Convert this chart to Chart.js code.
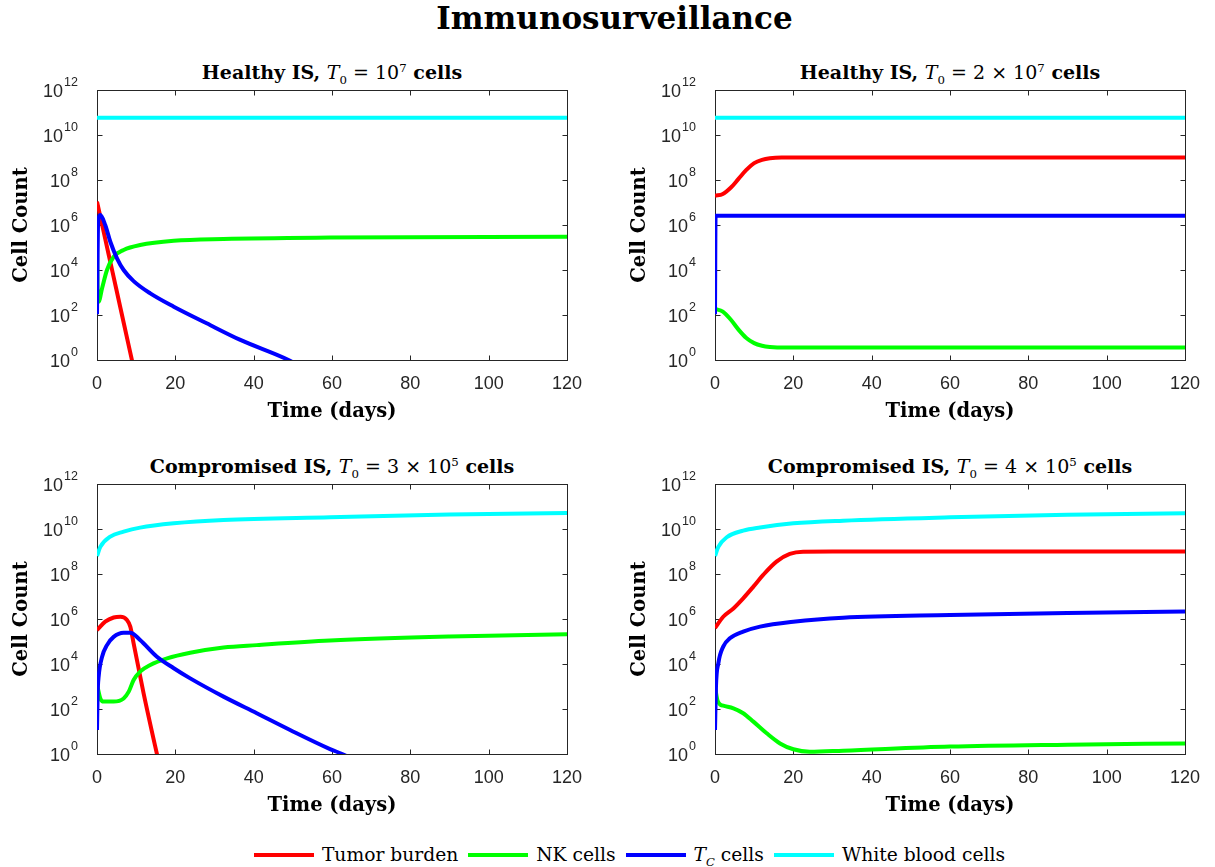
<!DOCTYPE html>
<html>
<head>
<meta charset="utf-8">
<title>Immunosurveillance</title>
<script src="https://cdn.jsdelivr.net/npm/chart.js@4.4.1/dist/chart.umd.min.js"></script>
<style>
  body { margin: 0; width: 1215px; height: 867px; background: #fff; position: relative; overflow: hidden; font-family: "DejaVu Serif", serif; color: #000; }
  canvas { position: absolute; }
  .main-title { position: absolute; left: 7px; width: 1215px; top: 1px; text-align: center; font-weight: bold; font-size: 31px; line-height: 34px; }
  .ptitle { position: absolute; width: 470px; text-align: center; font-size: 19px; line-height: 22px; white-space: nowrap; font-weight: bold; }
  .math { font-weight: normal; }
  .math i { font-style: italic; }
  sub, sup { font-size: 62%; line-height: 0; }
  .legend { position: absolute; left: 22px; width: 1215px; top: 843px; display: flex; justify-content: center; align-items: center; font-size: 18.7px; line-height: 24px; white-space: nowrap; }
  .legend .item { display: flex; align-items: center; margin: 0 5px; }
  .legend .sw { display: inline-block; width: 60px; height: 4px; margin-right: 8px; }
</style>
</head>
<body>

<div class="main-title">Immunosurveillance</div>

<div class="ptitle" style="left:97px; top:61px;">Healthy IS, <span class="math"><i>T</i><sub>0</sub> = 10<sup>7</sup></span> cells</div>
<div class="ptitle" style="left:715px; top:61px;">Healthy IS, <span class="math"><i>T</i><sub>0</sub> = 2 &times; 10<sup>7</sup></span> cells</div>
<div class="ptitle" style="left:97px; top:455px;">Compromised IS, <span class="math"><i>T</i><sub>0</sub> = 3 &times; 10<sup>5</sup></span> cells</div>
<div class="ptitle" style="left:715px; top:455px;">Compromised IS, <span class="math"><i>T</i><sub>0</sub> = 4 &times; 10<sup>5</sup></span> cells</div>

<canvas id="p1" width="597" height="365" style="left:0px; top:60px;"></canvas>
<canvas id="p2" width="597" height="365" style="left:618px; top:60px;"></canvas>
<canvas id="p3" width="597" height="365" style="left:0px; top:454px;"></canvas>
<canvas id="p4" width="597" height="365" style="left:618px; top:454px;"></canvas>

<div class="legend">
  <span class="item"><span class="sw" style="background:#ff0000"></span>Tumor burden</span>
  <span class="item"><span class="sw" style="background:#00ff00"></span>NK cells</span>
  <span class="item"><span class="sw" style="background:#0000ff"></span><span><i>T</i><sub><i>C</i></sub> cells</span></span>
  <span class="item"><span class="sw" style="background:#00ffff"></span>White blood cells</span>
</div>

<script>
// --- AXES ---
const xTickValues = [0, 20, 40, 60, 80, 100, 120];
const yTickValues = [1, 1e2, 1e4, 1e6, 1e8, 1e10, 1e12];
const yTickExponents = ['0', '2', '4', '6', '8', '10', '12'];

// --- PANEL 1: Healthy IS, T0 = 1e7 ---
const p1TumorT = [0, 2, 4, 6, 8, 9, 10];
const p1Tumor  = [1.1e7, 2.9e5, 7.6e3, 200, 5.2, 0.85, 0.14];
const p1NKT    = [0, 0.2, 0.4, 1.3, 2.55, 4.25, 6.8, 11, 19.6, 32.3, 59.5, 120];
const p1NK     = [1e5, 631, 389, 1550, 1e4, 3.9e4, 7.8e4, 1.29e5, 2e5, 2.4e5, 2.75e5, 3e5];
const p1TcT    = [0, 0.3, 0.85, 2.1, 3.4, 5.1, 6.8, 9.35, 13.6, 19.6, 28, 36.6, 48.9, 52];
const p1Tc     = [107, 1.58e6, 2.75e6, 1e6, 1.8e5, 3.3e4, 1e4, 3.2e3, 912, 234, 42.7, 7.8, 1, 0.5];
const p1WbcT   = [0, 120];
const p1Wbc    = [5.9e10, 5.9e10];

// --- PANEL 2: Healthy IS, T0 = 2e7 ---
const p2TumorT = [0, 2, 4, 6, 8, 10, 12, 14, 17, 120];
const p2Tumor  = [2e7, 2.4e7, 4.5e7, 1.12e8, 2.8e8, 5.6e8, 7.9e8, 9.3e8, 1e9, 1e9];
const p2NKT    = [0, 2, 4, 6, 8, 10, 12, 14, 18, 120];
const p2NK     = [186, 141, 63, 22.4, 9.5, 5.6, 4.3, 3.8, 3.55, 3.6];
const p2TcT    = [0, 0.15, 120];
const p2Tc     = [107, 2.6e6, 2.6e6];
const p2WbcT   = [0, 120];
const p2Wbc    = [5.9e10, 5.9e10];

// --- PANEL 3: Compromised IS, T0 = 3e5 ---
const p3TumorT = [0, 2.1, 4.25, 6.0, 7.65, 8.5, 9.35, 11.9, 15.3, 17];
const p3Tumor  = [3.2e5, 7.6e5, 1.17e6, 1.26e6, 9.1e5, 4.6e5, 8.3e4, 500, 1, 0.05];
const p3NKT    = [0, 0.85, 1.7, 4.25, 6.8, 8.1, 9.35, 11, 13.6, 17.9, 23.8, 32.3, 40.8, 59.5, 90, 120];
const p3NK     = [1260, 295, 214, 214, 295, 590, 1950, 4600, 9100, 1.78e4, 3.16e4, 5.4e4, 6.9e4, 1.1e5, 1.66e5, 2.1e5];
const p3TcT    = [0, 0.17, 0.42, 1.3, 2.55, 4.25, 6.8, 8.5, 11, 15.3, 19.6, 23.8, 32.3, 40.8, 49.3, 59.5, 62.6, 65];
const p3Tc     = [11.7, 500, 2750, 2.1e4, 6.9e4, 1.6e5, 2.45e5, 2.45e5, 1.17e5, 2.1e4, 6.5e3, 2.3e3, 355, 65, 11.7, 1.66, 1, 0.63];
const p3WbcT   = [0, 0.85, 3.4, 6.8, 11, 19.6, 32.3, 59.5, 90, 120];
const p3Wbc    = [6.3e8, 1.6e9, 4.6e9, 7.6e9, 1.15e10, 1.78e10, 2.5e10, 3.3e10, 4.4e10, 5.1e10];

// --- PANEL 4: Compromised IS, T0 = 4e5 ---
const p4TumorT = [0, 2.1, 4.7, 7.2, 9.8, 12.3, 15.7, 19.1, 22.5, 30, 120];
const p4Tumor  = [4e5, 1.26e6, 2.95e6, 8.3e6, 2.75e7, 9.1e7, 3.55e8, 7.8e8, 9.8e8, 1e9, 1e9];
const p4NKT    = [0, 0.6, 1.3, 2.1, 4.7, 7.2, 9.8, 13.2, 16.6, 20, 24.2, 32.7, 60, 90, 120];
const p4NK     = [1000, 250, 158, 141, 107, 65, 27.5, 8.3, 2.95, 1.62, 1.26, 1.41, 2.14, 2.6, 2.95];
const p4TcT    = [0, 0.25, 0.85, 2.1, 3.8, 7.2, 11.5, 20, 32.7, 60, 90, 120];
const p4Tc     = [11.7, 1000, 1.07e4, 5.9e4, 1.38e5, 2.75e5, 4.6e5, 7.6e5, 1.15e6, 1.51e6, 1.86e6, 2.14e6];
const p4WbcT   = [0, 0.85, 3, 7.2, 11.5, 20, 32.7, 60, 90, 120];
const p4Wbc    = [6.3e8, 1.6e9, 4.3e9, 8.5e9, 1.17e10, 1.78e10, 2.35e10, 3.3e10, 4.3e10, 5e10];

const AXIS_COLOR = '#262626';
const SERIF = 'DejaVu Serif';
const SANS = 'Liberation Sans';

// --- MATLAB-STYLE BOX, INWARD TICKS, 10^n LABELS ---
const matlabAxes = {
    id: 'matlabAxes',
    beforeDatasetsDraw(chart) {
        const { ctx, chartArea: a, scales: { x, y } } = chart;
        const L = Math.round(a.left) + 0.5, R = Math.round(a.right) + 0.5;
        const T = Math.round(a.top) + 0.5, B = Math.round(a.bottom) + 0.5;
        ctx.save();
        ctx.strokeStyle = AXIS_COLOR;
        ctx.lineWidth = 1;
        ctx.strokeRect(L, T, R - L, B - T);
        ctx.beginPath();
        x.ticks.forEach(t => {
            const px = Math.round(x.getPixelForValue(t.value)) + 0.5;
            ctx.moveTo(px, B); ctx.lineTo(px, B - 5);
            ctx.moveTo(px, T); ctx.lineTo(px, T + 5);
        });
        y.ticks.forEach(t => {
            const py = Math.round(y.getPixelForValue(t.value)) + 0.5;
            ctx.moveTo(L, py); ctx.lineTo(L + 5, py);
            ctx.moveTo(R, py); ctx.lineTo(R - 5, py);
        });
        ctx.stroke();
        ctx.restore();
    },
    afterDraw(chart) {
        const { ctx, chartArea: a, scales: { y } } = chart;
        ctx.save();
        ctx.fillStyle = AXIS_COLOR;
        ctx.textAlign = 'right';
        ctx.textBaseline = 'middle';
        yTickValues.forEach((v, i) => {
            const py = y.getPixelForValue(v);
            const exp = yTickExponents[i];
            const right = a.left - 19;
            ctx.font = `12.5px "${SANS}"`;
            const ew = ctx.measureText(exp).width;
            ctx.fillText(exp, right, py - 7);
            ctx.font = `18px "${SANS}"`;
            ctx.fillText('10', right - ew - 1, py + 2);
        });
        ctx.restore();
    }
};

function series(label, t, vals, color, order) {
    return {
        label,
        data: t.map((tt, i) => ({ x: tt, y: vals[i] })),
        borderColor: color,
        backgroundColor: color,
        borderWidth: 4,
        pointRadius: 0,
        cubicInterpolationMode: 'monotone',
        order
    };
}

function makePanel(id, datasets) {
    return new Chart(document.getElementById(id), {
        type: 'line',
        data: { datasets },
        options: {
            responsive: false,
            animation: false,
            devicePixelRatio: 1,
            layout: { padding: { top: 30, right: 30, left: 0, bottom: 0 } },
            plugins: { legend: { display: false }, tooltip: { enabled: false } },
            scales: {
                x: {
                    type: 'linear', min: 0, max: 120,
                    afterBuildTicks: s => { s.ticks = xTickValues.map(v => ({ value: v })); },
                    afterFit: s => { s.height = 65; },
                    grid: { display: false, drawTicks: false },
                    border: { display: false },
                    ticks: { font: { family: SANS, size: 18 }, color: AXIS_COLOR, padding: 13, maxRotation: 0 },
                    title: { display: true, text: 'Time (days)', color: '#000',
                             font: { family: SERIF, size: 19.5, weight: 'bold', lineHeight: 1.0 }, padding: { top: 0, bottom: 3 } }
                },
                y: {
                    type: 'logarithmic', min: 1, max: 1e12,
                    afterBuildTicks: s => { s.ticks = yTickValues.map(v => ({ value: v })); },
                    afterFit: s => { s.width = 97; },
                    grid: { display: false, drawTicks: false },
                    border: { display: false },
                    ticks: { display: false },
                    title: { display: true, text: 'Cell Count', color: '#000',
                             font: { family: SERIF, size: 19.5, weight: 'bold' }, padding: { top: 10, bottom: 0 } }
                }
            }
        },
        plugins: [matlabAxes]
    });
}

// --- INITIALIZE ---
makePanel('p1', [
    series('Tumor burden', p1TumorT, p1Tumor, '#ff0000', 4),
    series('NK cells', p1NKT, p1NK, '#00ff00', 3),
    series('TC cells', p1TcT, p1Tc, '#0000ff', 2),
    series('White blood cells', p1WbcT, p1Wbc, '#00ffff', 1)
]);
makePanel('p2', [
    series('Tumor burden', p2TumorT, p2Tumor, '#ff0000', 4),
    series('NK cells', p2NKT, p2NK, '#00ff00', 3),
    series('TC cells', p2TcT, p2Tc, '#0000ff', 2),
    series('White blood cells', p2WbcT, p2Wbc, '#00ffff', 1)
]);
makePanel('p3', [
    series('Tumor burden', p3TumorT, p3Tumor, '#ff0000', 4),
    series('NK cells', p3NKT, p3NK, '#00ff00', 3),
    series('TC cells', p3TcT, p3Tc, '#0000ff', 2),
    series('White blood cells', p3WbcT, p3Wbc, '#00ffff', 1)
]);
makePanel('p4', [
    series('Tumor burden', p4TumorT, p4Tumor, '#ff0000', 4),
    series('NK cells', p4NKT, p4NK, '#00ff00', 3),
    series('TC cells', p4TcT, p4Tc, '#0000ff', 2),
    series('White blood cells', p4WbcT, p4Wbc, '#00ffff', 1)
]);
</script>
</body>
</html>
